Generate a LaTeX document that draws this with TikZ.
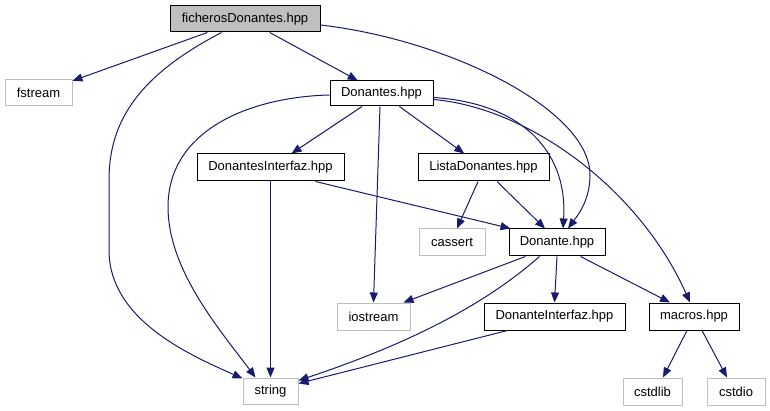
\documentclass[tikz,border=0pt]{standalone}
\usepackage{fontspec}
\setmainfont{Liberation Sans}
\usetikzlibrary{arrows.meta,calc}
\definecolor{edgeblue}{HTML}{191970}
\definecolor{boxgray}{HTML}{BFBFBF}
\definecolor{fillgray}{HTML}{BFBFBF}
\begin{document}
\begin{tikzpicture}[x=1pt,y=-1pt,
  box/.style={draw=black,line width=1pt,inner sep=0pt,font=\fontsize{13}{15}\selectfont},
  extbox/.style={draw=boxgray,line width=1pt,inner sep=0pt,font=\fontsize{13}{15}\selectfont},
  dep/.style={draw=edgeblue,line width=1pt,-{Triangle[length=10pt,width=8pt]}}]
\useasboundingbox (0,0) rectangle (770,411);
\node[box,fill=fillgray,minimum width=150pt,minimum height=26pt] (fich) at (245,19) {ficherosDonantes.hpp};
\node[extbox,minimum width=67pt,minimum height=26pt] (fstream) at (38.5,93) {fstream};
\node[box,minimum width=103pt,minimum height=25pt] (Donantes) at (381.5,93.5) {Donantes.hpp};
\node[box,minimum width=147pt,minimum height=27pt] (DIz) at (270.5,167.5) {DonantesInterfaz.hpp};
\node[box,minimum width=131pt,minimum height=27pt] (Lista) at (483.5,167.5) {ListaDonantes.hpp};
\node[extbox,minimum width=66pt,minimum height=27pt] (cassert) at (452,242.5) {cassert};
\node[box,minimum width=96pt,minimum height=27pt] (Donante) at (557,242.5) {Donante.hpp};
\node[extbox,minimum width=73pt,minimum height=27pt] (iostream) at (373.5,316.5) {iostream};
\node[box,minimum width=141pt,minimum height=27pt] (DI) at (554.5,316.5) {DonanteInterfaz.hpp};
\node[box,minimum width=90pt,minimum height=27pt] (macros) at (694,316.5) {macros.hpp};
\node[extbox,minimum width=55pt,minimum height=26pt] (string) at (270.5,391) {string};
\node[extbox,minimum width=59pt,minimum height=27pt] (cstdlib) at (652.5,391.5) {cstdlib};
\node[extbox,minimum width=58pt,minimum height=27pt] (cstdio) at (736,391.5) {cstdio};

% ficherosDonantes.hpp
\draw[dep] (fich) -- (fstream);
\draw[dep] ($(fich.south west)+(52,0)$) .. controls (140,75) and (109,120) .. (109,180)
   -- (109,250) .. controls (109,320) and (190,355) .. ($(string.north west)+(0,1)$);
\draw[dep] (fich) -- (Donantes);
\draw[dep] ($(fich.east)+(0,6)$) .. controls (450,40) and (590,110) .. (590,175)
   .. controls (590,200) and (578,215) .. ($(Donante.north)+(11,0)$);

% Donantes.hpp
\draw[dep] ($(Donantes.west)+(0,1.5)$) .. controls (250,97) and (168,130) .. (168,207)
   .. controls (168,270) and (220,330) .. ($(string.north west)+(13,0)$);
\draw[dep] (Donantes) -- (DIz);
\draw[dep] ($(Donantes.south)+(-1.5,0)$) -- (iostream.north);
\draw[dep] (Donantes) -- (Lista);
\draw[dep] ($(Donantes.east)+(0,4)$) .. controls (520,103) and (568,150) .. ($(Donante.north)+(6,0)$);
\draw[dep] ($(Donantes.east)+(0,6)$) .. controls (530,108) and (640,190) .. ($(macros.north)+(-4,0)$);

% DonantesInterfaz.hpp
\draw[dep] (DIz.south) -- (string.north);
\draw[dep] ($(DIz.south east)+(-29,0)$) -- ($(Donante.north west)+(2,0)$);

% ListaDonantes.hpp
\draw[dep] ($(Lista.south)+(-5.5,0)$) -- ($(cassert.north)+(5,0)$);
\draw[dep] ($(Lista.south)+(13.5,0)$) -- ($(Donante.north)+(-12,0)$);

% Donante.hpp
\draw[dep] ($(Donante.south west)+(17,0)$) -- ($(iostream.north east)+(-7,0)$);
\draw[dep] ($(Donante.south west)+(31,0)$) .. controls (490,300) and (420,340) .. ($(string.north east)+(0,3)$);
\draw[dep] (Donante.south) -- (DI.north);
\draw[dep] ($(Donante.south east)+(-25,0)$) -- ($(macros.north)+(-24,0)$);

% DonanteInterfaz.hpp
\draw[dep] ($(DI.south west)+(24,0)$) -- ($(string.north east)+(0,6)$);

% macros.hpp
\draw[dep] ($(macros.south)+(-7,0)$) -- ($(cstdlib.north)+(10.5,0)$);
\draw[dep] ($(macros.south)+(8,0)$) -- ($(cstdio.north)+(-9,0)$);
\end{tikzpicture}
\end{document}
